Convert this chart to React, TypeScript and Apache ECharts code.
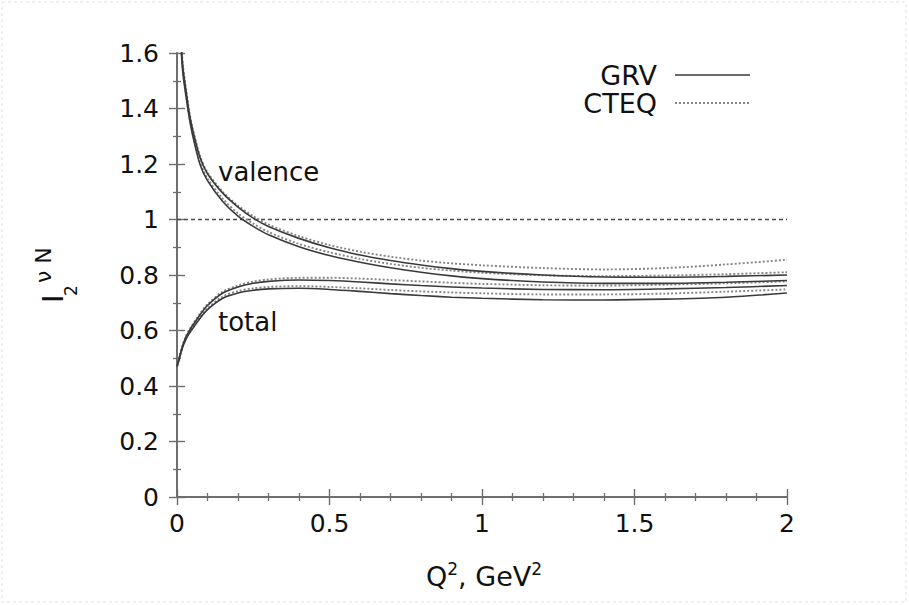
import React, { useEffect, useRef } from "react";
import * as echarts from "echarts";

// Q^2 grid (GeV^2) on which every curve is sampled
const Q2 = [0, 0.005, 0.01, 0.015, 0.02, 0.03, 0.04, 0.05, 0.075, 0.1, 0.15, 0.2, 0.25, 0.3, 0.4, 0.5, 0.6, 0.7, 0.8, 0.9, 1.0, 1.2, 1.4, 1.6, 1.8, 2.0];

// valence contribution
const valenceCteqHigh = [null, null, 1.76, 1.62, 1.55, 1.47, 1.39, 1.335, 1.23, 1.17, 1.1, 1.05, 1.012, 0.982, 0.94, 0.908, 0.884, 0.866, 0.852, 0.842, 0.835, 0.825, 0.82, 0.825, 0.838, 0.855];
const valenceGrvHigh = [null, null, 1.75, 1.61, 1.54, 1.46, 1.385, 1.33, 1.225, 1.165, 1.095, 1.045, 1.005, 0.975, 0.932, 0.898, 0.872, 0.852, 0.836, 0.823, 0.813, 0.8, 0.793, 0.792, 0.795, 0.8];
const valenceCteqLow = [null, null, 1.74, 1.6, 1.53, 1.45, 1.375, 1.318, 1.21, 1.148, 1.075, 1.022, 0.985, 0.955, 0.912, 0.882, 0.858, 0.84, 0.826, 0.816, 0.808, 0.799, 0.796, 0.798, 0.803, 0.81];
const valenceGrvLow = [null, null, 1.73, 1.59, 1.52, 1.44, 1.368, 1.31, 1.2, 1.14, 1.065, 1.012, 0.975, 0.945, 0.902, 0.87, 0.846, 0.826, 0.81, 0.797, 0.787, 0.775, 0.77, 0.77, 0.774, 0.78];

// total (valence + sea)
const totalCteqHigh = [0.47, 0.492, 0.515, 0.535, 0.553, 0.582, 0.602, 0.62, 0.66, 0.695, 0.74, 0.762, 0.776, 0.784, 0.79, 0.79, 0.787, 0.782, 0.777, 0.772, 0.768, 0.763, 0.762, 0.765, 0.77, 0.777];
const totalGrvHigh = [0.47, 0.49, 0.512, 0.532, 0.55, 0.578, 0.598, 0.616, 0.656, 0.69, 0.735, 0.757, 0.77, 0.777, 0.782, 0.78, 0.775, 0.768, 0.762, 0.757, 0.753, 0.748, 0.747, 0.75, 0.755, 0.762];
const totalCteqLow = [0.47, 0.49, 0.51, 0.53, 0.547, 0.574, 0.593, 0.61, 0.648, 0.68, 0.722, 0.742, 0.752, 0.757, 0.76, 0.757, 0.752, 0.746, 0.741, 0.737, 0.734, 0.73, 0.73, 0.733, 0.74, 0.748];
const totalGrvLow = [0.47, 0.488, 0.508, 0.527, 0.544, 0.57, 0.589, 0.605, 0.643, 0.675, 0.716, 0.735, 0.745, 0.75, 0.752, 0.748, 0.741, 0.733, 0.726, 0.72, 0.716, 0.711, 0.71, 0.713, 0.72, 0.735];

// reference level
const unitLevel = [
  [0, 1],
  [2, 1],
];

const xTicks = { min: 0, max: 2, interval: 0.5 };
const yTicks = { min: 0, max: 1.6, interval: 0.2 };

const FONT = '"DejaVu Sans", "Liberation Sans", Arial, sans-serif';
const FRAME = "#6e6e6e";

const solidStyle = { color: "#3a3a3a", width: 1.6, type: "solid" as const };
const dottedStyle = { color: "#858585", width: 1.9, type: [2, 2] };

function curve(name: string, values: (number | null)[], lineStyle: object) {
  return {
    type: "line",
    name,
    data: Q2.map((q, i) => [q, values[i]]),
    showSymbol: false,
    symbol: "none",
    smooth: 0.3,
    lineStyle,
    z: 3,
  };
}

const labelStyle = { color: "#111", fontSize: 25, fontFamily: FONT };

function axisCommon(showLabels: boolean, minorSplit: number) {
  return {
    axisLine: { show: true, lineStyle: { color: FRAME, width: 1.8 } },
    axisTick: { show: true, inside: true, length: 8, lineStyle: { color: FRAME, width: 1.4 } },
    minorTick: { show: true, splitNumber: minorSplit, length: 4, lineStyle: { color: FRAME, width: 1.3 } },
    splitLine: { show: false },
    axisLabel: { show: showLabels, ...labelStyle },
  };
}

export default function App() {
  const ref = useRef<HTMLDivElement>(null);

  useEffect(() => {
    if (!ref.current) return;
    const chart = echarts.init(ref.current, null, { renderer: "svg" });

    const xBase = { type: "value", ...xTicks };
    const yBase = { type: "value", ...yTicks };

    chart.setOption({
      animation: false,
      backgroundColor: "#ffffff",
      grid: { left: 177, top: 53, right: 122, bottom: 108, containLabel: false },
      xAxis: [
        {
          ...xBase,
          position: "bottom",
          ...axisCommon(true, 5),
          axisLabel: { show: true, ...labelStyle, margin: 14 },
        },
        { ...xBase, position: "top", ...axisCommon(false, 5) },
      ],
      yAxis: [
        {
          ...yBase,
          position: "left",
          ...axisCommon(true, 2),
          axisLabel: { show: true, ...labelStyle, margin: 18 },
        },
        { ...yBase, position: "right", ...axisCommon(false, 2) },
      ],
      series: [
        {
          type: "line",
          name: "unit",
          data: unitLevel,
          showSymbol: false,
          symbol: "none",
          lineStyle: { color: "#4a4a4a", width: 1.4, type: [4, 3] },
          z: 2,
        },
        curve("CTEQ", valenceCteqHigh, dottedStyle),
        curve("CTEQ", valenceCteqLow, dottedStyle),
        curve("CTEQ", totalCteqHigh, dottedStyle),
        curve("CTEQ", totalCteqLow, dottedStyle),
        curve("GRV", valenceGrvHigh, solidStyle),
        curve("GRV", valenceGrvLow, solidStyle),
        curve("GRV", totalGrvHigh, solidStyle),
        curve("GRV", totalGrvLow, solidStyle),
      ],
      graphic: [
        // faint page border
        {
          type: "rect",
          shape: { x: 2, y: 2, width: 904, height: 600 },
          style: { fill: "none", stroke: "#e2e2e2", lineWidth: 1, lineDash: [3, 3] },
          silent: true,
        },
        // curve labels
        {
          type: "text",
          x: 218,
          y: 172,
          style: { text: "valence", fontSize: 26, fontFamily: FONT, fill: "#111", align: "left", verticalAlign: "middle" },
        },
        {
          type: "text",
          x: 218,
          y: 322,
          style: { text: "total", fontSize: 26, fontFamily: FONT, fill: "#111", align: "left", verticalAlign: "middle" },
        },
        // key
        {
          type: "text",
          x: 657,
          y: 75,
          style: { text: "GRV", fontSize: 27, fontFamily: FONT, fill: "#111", align: "right", verticalAlign: "middle" },
        },
        {
          type: "line",
          shape: { x1: 675, y1: 75, x2: 750, y2: 75 },
          style: { stroke: "#3a3a3a", lineWidth: 1.6 },
        },
        {
          type: "text",
          x: 657,
          y: 103,
          style: { text: "CTEQ", fontSize: 27, fontFamily: FONT, fill: "#111", align: "right", verticalAlign: "middle" },
        },
        {
          type: "line",
          shape: { x1: 675, y1: 103, x2: 750, y2: 103 },
          style: { stroke: "#858585", lineWidth: 1.9, lineDash: [2, 2] },
        },
        // x axis title
        {
          type: "text",
          x: 484,
          y: 576,
          style: {
            text: "{b|Q}{s|2}{b|, GeV}{s|2}",
            align: "center",
            verticalAlign: "middle",
            rich: {
              b: { fontSize: 27, fontFamily: FONT, fill: "#111", lineHeight: 32 },
              s: { fontSize: 17, fontFamily: FONT, fill: "#111", lineHeight: 20, verticalAlign: "top" },
            },
          },
        },
        // y axis title, rotated to read bottom-up
        {
          type: "group",
          x: 63,
          y: 303,
          rotation: Math.PI / 2,
          children: [
            {
              type: "text",
              x: 0,
              y: -10.5,
              style: { text: "I", fontSize: 29, fontFamily: FONT, fill: "#111", align: "left", verticalAlign: "middle" },
            },
            {
              type: "text",
              x: 7,
              y: 8,
              style: { text: "2", fontSize: 17, fontFamily: FONT, fill: "#111", align: "left", verticalAlign: "middle" },
            },
            {
              type: "text",
              x: 20,
              y: -19.5,
              style: { text: "ν N", fontSize: 22, fontFamily: FONT, fill: "#111", align: "left", verticalAlign: "middle" },
            },
          ],
        },
      ],
    });

    return () => chart.dispose();
  }, []);

  return (
    <div
      ref={ref}
      style={{ position: "fixed", left: 0, top: 0, width: 909, height: 605, background: "#fff" }}
    />
  );
}
